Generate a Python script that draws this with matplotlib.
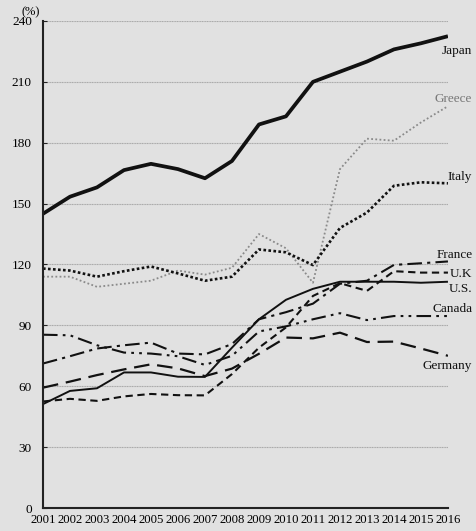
import numpy as np
import matplotlib
matplotlib.use("Agg")
import matplotlib.pyplot as plt

plt.rcParams['font.family'] = ['Liberation Serif', 'DejaVu Serif']

years = np.arange(2001, 2017)

japan = [145, 153.4, 158, 166.5, 169.6, 167, 162.5, 171, 189, 193, 210, 215, 220, 226, 229, 232.5]
greece = [114, 114, 109, 110.5, 112, 117, 115, 118.4, 135, 128, 111, 167, 182, 181, 190, 198]
italy = [118, 117, 114, 116.7, 119, 115.6, 112, 114, 127.4, 126, 119.7, 138, 145.6, 158.8, 160.5, 160]
france = [71.2, 74.8, 78.6, 80.2, 81.5, 76.1, 75.7, 80.8, 93, 96.5, 100.7, 110.5, 112, 119.8, 120.6, 121.5]
uk = [52.5, 53.8, 52.8, 55, 56.2, 55.6, 55.5, 66, 79, 89, 104.5, 110.8, 107, 116.7, 116, 116]
us = [51.2, 57.7, 59, 66.8, 66.8, 64.7, 64.6, 79, 93, 102.6, 108, 111.5, 111.5, 111.5, 111, 111.5]
canada = [85.4, 85.1, 80.2, 76.6, 76.1, 74.8, 70.5, 75, 87, 89.5, 93, 96, 92.6, 94.6, 94.6, 94.6]
germany = [59.3, 62.3, 65.5, 68.3, 70.8, 68.8, 65, 68.7, 76, 84, 83.6, 86.4, 81.8, 82, 78.6, 75]

series = [
    ("Japan", japan, dict(color="#111111", lw=2.7, ls="-")),
    ("Greece", greece, dict(color="#8a8a8a", lw=1.3, ls=(0, (1, 1.3)))),
    ("Italy", italy, dict(color="#111111", lw=1.9, ls=(0, (1, 0.9)))),
    ("France", france, dict(color="#111111", lw=1.5, ls=(0, (7, 2.5, 1.5, 2.5)))),
    ("U.K", uk, dict(color="#111111", lw=1.5, ls=(0, (3.5, 2.2)))),
    ("U.S.", us, dict(color="#111111", lw=1.4, ls="-")),
    ("Canada", canada, dict(color="#111111", lw=1.5, ls=(0, (7, 2.5, 1.3, 2.5, 1.3, 2.5)))),
    ("Germany", germany, dict(color="#111111", lw=1.6, ls=(0, (7, 3.5)))),
]

# label positions (value at right edge) and colours
label_y = {"Japan": 225, "Greece": 201.5, "Italy": 163, "France": 124.6,
           "U.K": 115.3, "U.S.": 108, "Canada": 98, "Germany": 70}

bg = "#e1e1e1"
fig = plt.figure(figsize=(4.77, 5.31), dpi=100, facecolor=bg)
ax = fig.add_axes([0.0901, 0.0433, 0.8490, 0.9172], facecolor=bg)

for name, vals, style in series:
    ax.plot(years, vals, solid_capstyle="butt", dash_capstyle="butt", **style)
    col = "#777777" if name == "Greece" else "#111111"
    ax.text(2016.9, label_y[name], name, ha="right", va="center", fontsize=9.5, color=col)

ax.set_xlim(2001, 2016)
ax.set_ylim(0, 240)
ax.set_yticks(np.arange(0, 241, 30))
ax.set_xticks(years)
ax.set_xticklabels([str(y) for y in years])
ax.grid(axis="y", color="#a8a8a8", lw=0.8, ls=(0, (1, 0.5)))
ax.set_axisbelow(True)

for side in ["top", "right"]:
    ax.spines[side].set_visible(False)
for side in ["left", "bottom"]:
    ax.spines[side].set_color("#222222")
    ax.spines[side].set_linewidth(1.5)

ax.tick_params(axis="y", direction="in", length=3, pad=8, labelsize=9.5, color="#222222")
ax.tick_params(axis="x", length=0, pad=4, labelsize=9.2)

ax.text(-0.03, 1.005, "(%)", transform=ax.transAxes, ha="center", va="bottom", fontsize=9)

fig.savefig("out.png", dpi=100, facecolor=bg)
